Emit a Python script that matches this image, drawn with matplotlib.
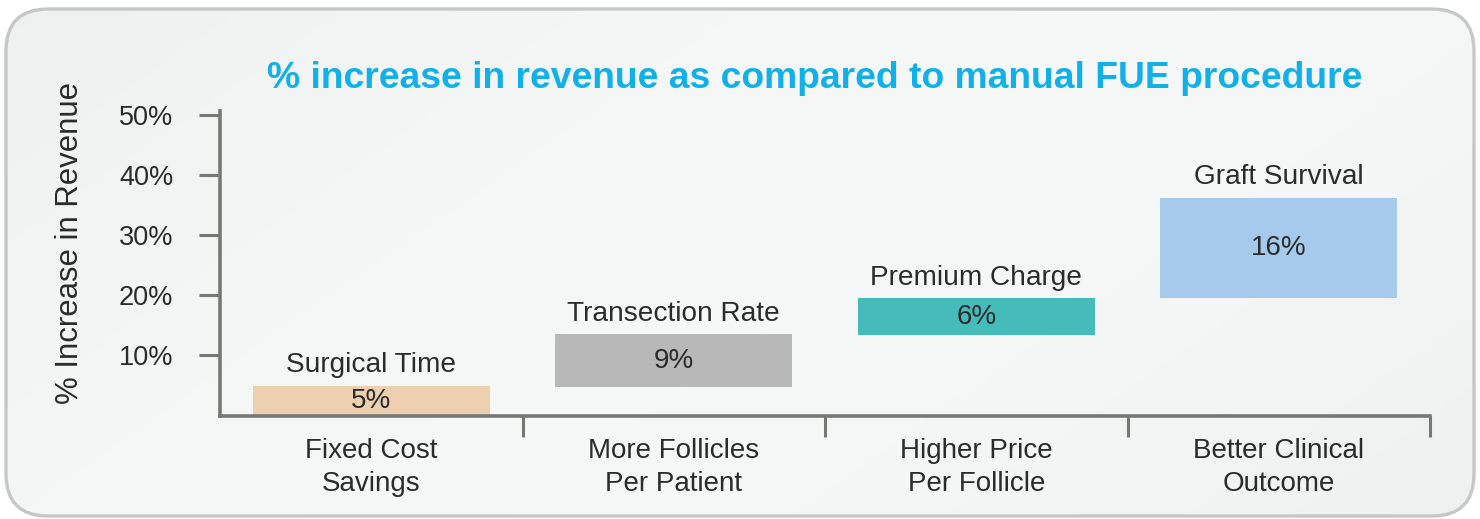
import numpy as np
import matplotlib
matplotlib.use("Agg")
import matplotlib.pyplot as plt
from matplotlib.patches import FancyBboxPatch

plt.rcParams['font.family'] = ['Liberation Sans', 'DejaVu Sans']

# data (waterfall: each bar starts where the previous ended)
groups = ['Fixed Cost\nSavings', 'More Follicles\nPer Patient',
          'Higher Price\nPer Follicle', 'Better Clinical\nOutcome']
drivers = ['Surgical Time', 'Transection Rate', 'Premium Charge', 'Graft Survival']
bar_low = [0, 4.8, 13.4, 19.5]
bar_high = [4.9, 13.5, 19.5, 36.3]
bar_text = ['5%', '9%', '6%', '16%']
colors = ['#EDD0B0', '#B8B8B8', '#45BBBA', '#A6CAEC']
yticks = [10, 20, 30, 40, 50]

text_col = '#2B2B2B'
axis_col = '#777773'

fig = plt.figure(figsize=(14.8, 5.19), dpi=100)
fig.patch.set_facecolor('white')

# rounded gradient panel behind everything
bg = fig.add_axes([0, 0, 1, 1], zorder=-10)
bg.set_xlim(0, 1480)
bg.set_ylim(519, 0)
bg.axis('off')
xx, yy = np.meshgrid(np.linspace(0, 1, 300), np.linspace(0, 1, 120))
t = 0.5 * xx + 0.25 * yy
grad = 0.935 + 0.03 * np.sin(np.pi * np.clip(t * 1.3, 0, 1))
img = bg.imshow(np.dstack([grad, grad + 0.004, grad + 0.004]).clip(0, 1),
                extent=[0, 1480, 519, 0], aspect='auto', zorder=0)
panel = FancyBboxPatch((6, 9), 1468, 507, boxstyle='round,pad=0,rounding_size=42',
                       facecolor='none', edgecolor='#C6C8C8', linewidth=2.4, zorder=2)
bg.add_patch(panel)
img.set_clip_path(panel)

ax = fig.add_axes([220 / 1480, 1 - 415.5 / 519, 1210 / 1480, 304.3 / 519])
ax.patch.set_alpha(0)

x = np.arange(len(groups))
heights = [h - l for l, h in zip(bar_low, bar_high)]
ax.bar(x, heights, bottom=bar_low, width=0.784, color=colors, zorder=2)

for i in range(len(groups)):
    ax.text(x[i], (bar_low[i] + bar_high[i]) / 2, bar_text[i], ha='center', va='center',
            fontsize=20, color=text_col, zorder=3)
    ax.annotate(drivers[i], (x[i], bar_high[i]), xytext=(0, 10), textcoords='offset points',
                ha='center', va='baseline', fontsize=20.2, color=text_col)

ax.set_xlim(-0.5, 3.5)
ax.set_ylim(0, 50.7)

ax.set_yticks(yticks)
ax.set_yticklabels([f'{v}%' for v in yticks])
ax.tick_params(axis='y', length=15, width=2.2, color=axis_col, pad=18.5,
               labelsize=19.5, labelcolor=text_col)

ax.set_xticks([0.5, 1.5, 2.5, 3.5])
ax.set_xticklabels([])
ax.tick_params(axis='x', which='major', direction='out', length=15, width=2.2, color=axis_col)
ax.set_xticks(x, minor=True)
ax.set_xticklabels(groups, minor=True, fontsize=20, color=text_col, linespacing=1.35)
ax.tick_params(axis='x', which='minor', length=0, pad=16.5)

for s in ['top', 'right']:
    ax.spines[s].set_visible(False)
for s in ['left', 'bottom']:
    ax.spines[s].set_color(axis_col)
    ax.spines[s].set_linewidth(2.6)

ax.set_ylabel('% Increase in Revenue', fontsize=22.4, color=text_col)
ax.yaxis.set_label_coords(-0.1116, 0.567)

fig.text(815 / 1480, 1 - 78.5 / 519, '% increase in revenue as compared to manual FUE procedure',
         ha='center', va='center', fontsize=26.8, fontweight='bold', color='#12B0E8')

fig.savefig('out.png', dpi=100)
